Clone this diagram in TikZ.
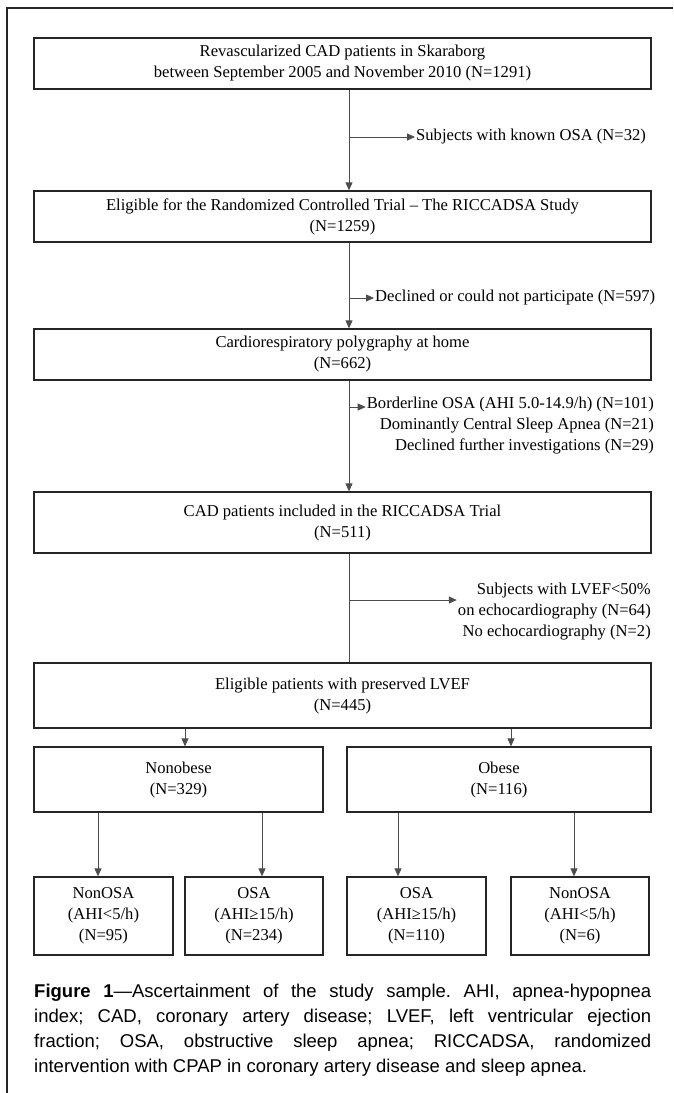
\documentclass[tikz,border=0pt]{standalone}
\usepackage{fontspec}
\setmainfont{Liberation Serif}
\newfontfamily\capfont{Liberation Sans}
\usetikzlibrary{arrows.meta}
\begin{document}
\begin{tikzpicture}[x=1pt,y=-1pt,
  box/.style={draw=black!85, line width=1.3pt, inner sep=0pt, align=center,
    font=\fontsize{16.6}{21}\selectfont},
  side/.style={inner sep=1pt, font=\fontsize{16.6}{21}\selectfont},
  conn/.style={draw=black!70, line width=0.8pt},
  arr/.style={conn, -{Triangle[length=8pt,width=7pt]}},
]
\useasboundingbox (0,0) rectangle (673,1093);
\draw[line width=1.2pt, black!85] (7,1093) -- (7,8) -- (673,8);

\node[box, minimum width=617pt, minimum height=51pt] (b1) at (342.5,63.5)
  {Revascularized CAD patients in Skaraborg\\between September 2005 and November 2010 (N=1291)};
\node[box, minimum width=617pt, minimum height=51pt] (b2) at (342.5,216.5)
  {Eligible for the Randomized Controlled Trial -- The RICCADSA Study\\(N=1259)};
\node[box, minimum width=617pt, minimum height=51pt] (b3) at (342.5,354.5)
  {Cardiorespiratory polygraphy at home\\(N=662)};
\node[box, minimum width=617pt, minimum height=61pt] (b4) at (342.5,522.5)
  {CAD patients included in the RICCADSA Trial\\(N=511)};
\node[box, minimum width=617pt, minimum height=65pt] (b5) at (342.5,695.5)
  {Eligible patients with preserved LVEF\\(N=445)};
\node[box, minimum width=289pt, minimum height=65pt] (nob) at (178.5,779.5)
  {Nonobese\\(N=329)};
\node[box, minimum width=304pt, minimum height=65pt] (ob) at (499,779.5)
  {Obese\\(N=116)};
\node[box, minimum width=139pt, minimum height=78pt] (c1) at (103.5,916)
  {NonOSA\\(AHI<5/h)\\(N=95)};
\node[box, minimum width=138pt, minimum height=78pt] (c2) at (254,916)
  {OSA\\(AHI≥15/h)\\(N=234)};
\node[box, minimum width=139pt, minimum height=78pt] (c3) at (416.5,916)
  {OSA\\(AHI≥15/h)\\(N=110)};
\node[box, minimum width=138pt, minimum height=78pt] (c4) at (580,916)
  {NonOSA\\(AHI<5/h)\\(N=6)};

% side texts
\node[side, anchor=west] (o1) at (415,137) {Subjects with known OSA (N=32)};
\node[side, anchor=west] (o2) at (374,298) {Declined or could not participate (N=597)};
\node[side, anchor=north east, align=right] (o3) at (655,396)
  {Borderline OSA (AHI 5.0-14.9/h) (N=101)\\Dominantly Central Sleep Apnea (N=21)\\Declined further investigations (N=29)};
\node[side, anchor=north east, align=right] (o4) at (652,582)
  {Subjects with LVEF<50\%\\on echocardiography (N=64)\\No echocardiography (N=2)};

% main spine
\coordinate (m) at (349,0);
\coordinate (j1) at (349,137);
\coordinate (j2) at (349,298);
\coordinate (j3) at (349,407);
\coordinate (j4) at (349,600);
\draw[arr] (b1.south -| m) -- (b2.north -| m);
\draw[arr] (b2.south -| m) -- (b3.north -| m);
\draw[arr] (b3.south -| m) -- (b4.north -| m);
\draw[conn] (b4.south -| m) -- (b5.north -| m);
\draw[arr] (j1) -- (o1.west);
\draw[arr] (j2) -- (o2.west);
\draw[arr] (j3) -- (j3 -| o3.west);
\draw[arr] (j4) -- (j4 -| o4.west);

% branches
\coordinate (p1) at (185,0);
\coordinate (p2) at (511,0);
\draw[arr] (b5.south -| p1) -- (nob.north -| p1);
\draw[arr] (b5.south -| p2) -- (ob.north -| p2);
\coordinate (q1) at (98,0);
\coordinate (q2) at (262,0);
\coordinate (q3) at (398,0);
\coordinate (q4) at (574,0);
\draw[arr] (nob.south -| q1) -- (c1.north -| q1);
\draw[arr] (nob.south -| q2) -- (c2.north -| q2);
\draw[arr] (ob.south -| q3) -- (c3.north -| q3);
\draw[arr] (ob.south -| q4) -- (c4.north -| q4);

% caption
\node[anchor=north west, inner sep=0pt, text width=617pt, align=justify,
  font=\capfont\fontsize{18.5}{24.8}\selectfont\frenchspacing] (cap) at (34,984)
  {\textbf{Figure 1}—Ascertainment of the study sample. AHI, apnea-hypopnea\linebreak
   index; CAD, coronary artery disease; LVEF, left ventricular ejection\linebreak
   fraction; OSA, obstructive sleep apnea; RICCADSA, randomized\linebreak
   intervention with CPAP in coronary artery disease and sleep apnea.};
\end{tikzpicture}
\end{document}
